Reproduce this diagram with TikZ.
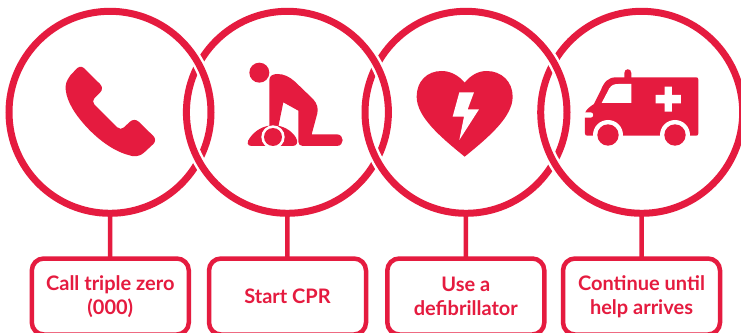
\documentclass[tikz,border=0pt]{standalone}
\usepackage{fontspec}
\setmainfont{Lato}
\definecolor{aidred}{HTML}{E51B3F}
\newcommand{\boxline}[1]{\raisebox{1pt}{#1}}
\tikzset{
  ring/.style={circle,draw=aidred,line width=7pt,minimum size=202pt,inner sep=0pt,outer sep=0pt,
    preaction={draw=white,line width=12pt}},
  label box/.style={rectangle,draw=aidred,line width=4.5pt,rounded corners=12pt,minimum width=157pt,
    minimum height=76pt,inner sep=0pt,outer sep=0pt,align=center,text=aidred,
    font=\fontsize{20}{24}\selectfont\bfseries},
  link/.style={draw=aidred,line width=4.5pt},
  icon/.style={fill=aidred,draw=none},
  knock/.style={fill=white,draw=none},
  zoomed/.style={x=0.33333pt,y=-0.33333pt}
}
\begin{document}
\begin{tikzpicture}[x=1pt,y=-1pt]
\useasboundingbox (0,0) rectangle (741,332);
\clip (0,0) rectangle (741,332);
\fill[white] (0,0) rectangle (741,332);
% rings, each over the previous one
\node[ring] (c1) at (110,112.3) {};
\node[ring] (c2) at (287.4,112.3) {};
\node[ring] (c3) at (466,112.3) {};
\node[ring] (c4) at (641.7,112.3) {};
% the left ring passes over at the upper crossing
\foreach \cx/\ccx/\nm in {110/198.7/c1,287.4/376.7/c2,466/553.85/c3}{
  \begin{scope}
    \clip (\ccx-15,63.5-15) rectangle (\ccx+15,63.5+15);
    \draw[white,line width=12pt] (\cx,112.3) circle[radius=101pt];
    \draw[aidred,line width=7pt] (\cx,112.3) circle[radius=101pt];
  \end{scope}
}
% label boxes
\node[label box] (b1) at (110.3,296.5) {\boxline{Call triple zero}\\\boxline{(000)}};
\node[label box] (b2) at (287.5,296.5) {\boxline{Start CPR}};
\node[label box] (b3) at (465.8,296.5) {\boxline{Use a}\\\boxline{defibrillator}};
\node[label box] (b4) at (641.5,296.5) {\boxline{Continue until}\\\boxline{help arrives}};
% connectors
\foreach \i in {1,2,3,4}{ \draw[link] (c\i) -- (b\i); }
% phone
\begin{scope}[zoomed]
\fill[icon] (232,204) .. controls (240,198) and (248,200) .. (252,204) -- (300,252)
  .. controls (308,260) and (308,270) .. (300,278) -- (283,295)
  .. controls (278,300) and (278,308) .. (283,313) -- (352,382)
  .. controls (358,388) and (366,388) .. (372,382) -- (390,365)
  .. controls (398,358) and (408,358) .. (416,365) -- (460,408)
  .. controls (467,415) and (467,425) .. (460,432) -- (432,458)
  .. controls (415,472) and (400,470) .. (385,465)
  .. controls (330,450) and (280,405) .. (250,370)
  .. controls (215,330) and (195,290) .. (197,258)
  .. controls (198,245) and (205,235) .. (212,225) -- cycle;
% CPR figure
\fill[icon] (778,218) circle[radius=30];
\fill[icon] (808,240) .. controls (808,228) and (818,222) .. (832,222)
  .. controls (852,222) and (868,230) .. (885,245) -- (940,298)
  .. controls (952,312) and (955,325) .. (952,340) -- (935,403) -- (1010,403)
  .. controls (1034,403) and (1034,438) .. (1010,438) -- (908,438)
  .. controls (900,438) and (895,432) .. (895,425) -- (895,332) -- (850,307) -- (835,380) -- (808,380) -- cycle;
\fill[icon] (755,438) .. controls (740,438) and (740,425) .. (750,413)
  .. controls (765,392) and (790,376) .. (820,376)
  .. controls (850,376) and (875,392) .. (888,413)
  .. controls (895,425) and (892,438) .. (878,438) -- cycle;
\begin{scope}
  \clip (770,370) rectangle (870,440);
  \fill[knock] (819,411) circle[radius=35];
\end{scope}
\begin{scope}
  \clip (770,370) rectangle (870,438);
  \fill[icon] (819,411) circle[radius=27];
\end{scope}
\end{scope}
% heart and ambulance
\begin{scope}[zoomed,shift={(1110,0)}]
\fill[icon] (284,248) .. controls (265,225) and (240,213) .. (215,213)
  .. controls (170,213) and (140,245) .. (140,290)
  .. controls (140,350) and (210,410) .. (284,470)
  .. controls (358,410) and (428,350) .. (428,290)
  .. controls (428,245) and (395,213) .. (350,213)
  .. controls (325,213) and (303,225) .. (284,248) -- cycle;
\fill[knock] (268,277) -- (312,277) -- (293,328) -- (327,328) -- (268,420) -- (282,350) -- (248,350) -- cycle;
% ambulance
\fill[icon] (763,240) -- (763,219) .. controls (763,204) and (784,204) .. (784,219) -- (784,240) -- cycle;
\fill[icon] (738,232) -- (978,232) .. controls (983,232) and (985,234) .. (985,239) -- (985,400)
  .. controls (985,405) and (983,407) .. (978,407) -- (652,407)
  .. controls (647,407) and (645,405) .. (645,400) -- (645,340)
  .. controls (648,328) and (660,320) .. (672,312) -- (692,272)
  .. controls (702,245) and (715,232) .. (738,232) -- cycle;
\fill[knock] (640,337) -- (662,337) .. controls (672,337) and (672,353) .. (662,353) -- (640,353) -- cycle;
\fill[knock] (695,309) -- (718,265) .. controls (725,255) and (732,252) .. (745,252) -- (784,252) -- (784,309) -- cycle;
\fill[knock] (884,260) -- (906,260) -- (906,285) -- (933,285) -- (933,310) -- (906,310) -- (906,335) -- (884,335) -- (884,310) -- (857,310) -- (857,285) -- (884,285) -- cycle;
\fill[knock] (714,405) circle[radius=45];
\fill[knock] (915,405) circle[radius=45];
\fill[icon] (714,405) circle[radius=32];
\fill[icon] (915,405) circle[radius=32];
\end{scope}
\end{tikzpicture}
\end{document}
